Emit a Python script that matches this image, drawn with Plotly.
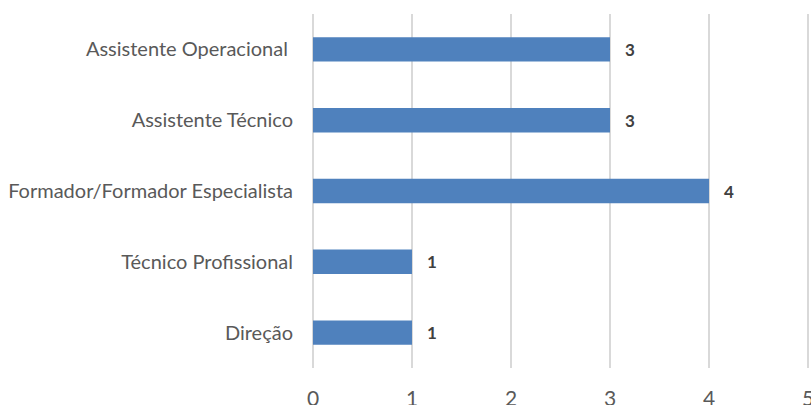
import plotly.graph_objects as go

categories = ["Assistente Operacional\u00a0", "Assistente Técnico", "Formador/Formador Especialista",
              "Técnico Profissional", "Direção"]
values = [3, 3, 4, 1, 1]
x_ticks = [0, 1, 2, 3, 4, 5]

FONT = "Lato"

fig = go.Figure()
fig.add_trace(go.Bar(
    x=values, y=categories, orientation="h",
    marker=dict(color="#4f81bd", line=dict(width=0)),
    hoverinfo="skip",
))

for v, c in zip(values, categories):
    fig.add_annotation(x=v, y=c, text="<b>%d</b>" % v, showarrow=False,
                       xanchor="left", xshift=13,
                       font=dict(family=FONT, size=17, color="#404040"))

fig.update_layout(
    width=811, height=405,
    margin=dict(l=311, r=1, t=14, b=37, autoexpand=False),
    paper_bgcolor="white", plot_bgcolor="white",
    bargap=0.655,
    showlegend=False,
    font=dict(family=FONT, color="#595959"),
)
fig.update_xaxes(
    range=[-0.02, 5.02], tickvals=x_ticks, ticktext=[str(t) for t in x_ticks],
    showgrid=True, gridcolor="#d9d9d9", gridwidth=2,
    zeroline=False, showline=False, automargin=False,
    ticks="outside", ticklen=12, tickcolor="rgba(0,0,0,0)",
    ticklabeloverflow="allow",
    tickfont=dict(size=21, color="#595959"),
)
fig.update_yaxes(
    categoryorder="array", categoryarray=categories, autorange="reversed",
    range=[4.5, -0.5],
    showgrid=False, zeroline=False, showline=False, automargin=False,
    ticks="outside", ticklen=13, tickcolor="rgba(0,0,0,0)",
    tickfont=dict(size=20, color="#595959"),
)

fig.write_html("out.html", config={"displayModeBar": False},
               post_script="document.body.style.margin='0px';")
